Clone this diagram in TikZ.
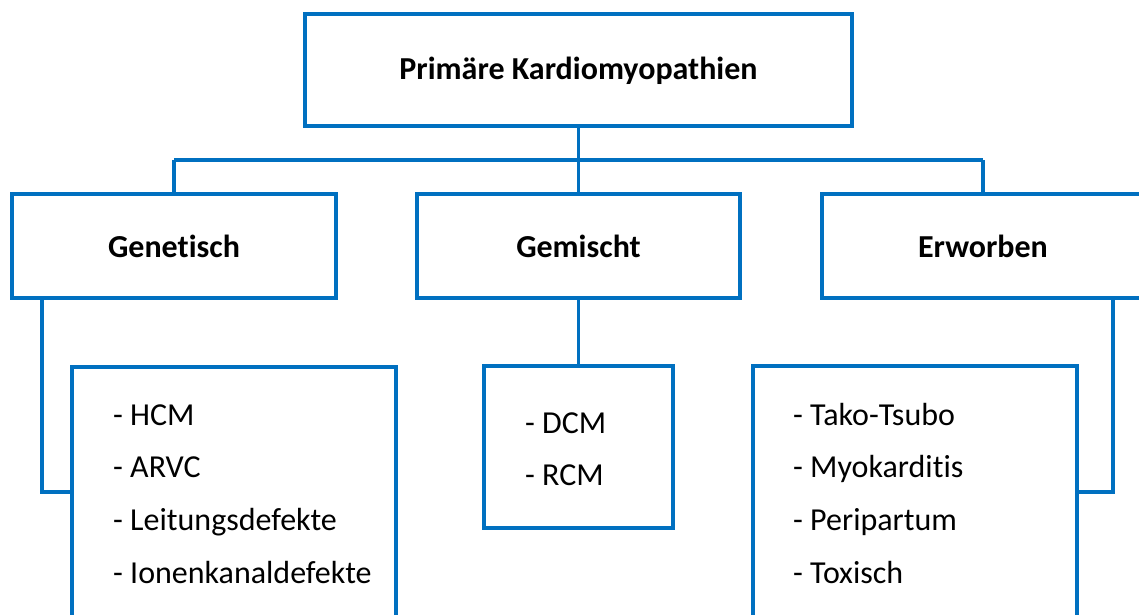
\documentclass[tikz,border=0pt]{standalone}
\usepackage{fontspec}
\setmainfont{Carlito}[Ligatures=NoCommon]
\usetikzlibrary{calc}
\definecolor{boxblue}{HTML}{0070C0}
\tikzset{
  box/.style={draw=boxblue, line width=3.6pt, rectangle, inner sep=0pt, fill=white},
  conn/.style={draw=boxblue, line width=3.6pt},
  head/.style={font=\fontsize{32}{38}\selectfont\bfseries, text=black},
  item/.style={font=\fontsize{32}{38}\selectfont, text=black, anchor=base west, inner sep=0pt}
}
\begin{document}
\begin{tikzpicture}[x=1pt,y=-1pt]
\useasboundingbox (0,0) rectangle (1139,614);
\clip (0,0) rectangle (1139,614);
% main boxes
\node[box, minimum width=547pt, minimum height=112pt] (top) at (578.5,70) {};
\node[head] (toptxt) at (578.5,71) {Primäre Kardiomyopathien};
\node[box, minimum width=324pt, minimum height=104pt] (gen) at (174,246) {};
\node[head] (gentxt) at (174,246) {Genetisch};
\node[box, minimum width=323pt, minimum height=104pt] (gem) at (578.5,246) {};
\node[head] (gemtxt) at (578.5,246) {Gemischt};
\node[box, minimum width=322pt, minimum height=104pt] (erw) at (983,246) {};
\node[head] (erwtxt) at (983,246) {Erworben};
% list boxes
\node[box, minimum width=324pt, minimum height=334pt] (lbox) at (234,534) {};
\node[box, minimum width=189pt, minimum height=162pt] (mbox) at (578.5,447) {};
\node[box, minimum width=324pt, minimum height=334pt] (rbox) at (915,533) {};
% list texts
\node[item] (l1) at (113,425) {- HCM};
\node[item] (l2) at (113,477) {- ARVC};
\node[item] (l3) at (113,530) {- Leitungsdefekte};
\node[item] (l4) at (113,583) {- Ionenkanaldefekte};
\node[item] (m1) at (525,433) {- DCM};
\node[item] (m2) at (525,485) {- RCM};
\node[item] (r1) at (793,425) {- Tako-Tsubo};
\node[item] (r2) at (793,477) {- Myokarditis};
\node[item] (r3) at (793,530) {- Peripartum};
\node[item] (r4) at (793,583) {- Toxisch};
% connectors
\coordinate (busL) at (gen.north |- 0,160);
\coordinate (busR) at (erw.north |- 0,160);
\coordinate (busM) at (top.south |- 0,160);
\draw[conn] (busL) -- (busR);
\draw[conn] (top.south) -- (busM);
\draw[conn] (busL) -- (gen.north);
\draw[conn] (busM) -- (gem.north);
\draw[conn] (busR) -- (erw.north);
\draw[conn] (gem.south) -- (mbox.north);
\coordinate (gdrop) at ($(gen.south west)+(32,0)$);
\coordinate (edrop) at (1113,298);
\draw[conn] (gdrop) |- (lbox.west |- 0,492);
\draw[conn] (edrop) |- (rbox.east |- 0,492);
\end{tikzpicture}
\end{document}
